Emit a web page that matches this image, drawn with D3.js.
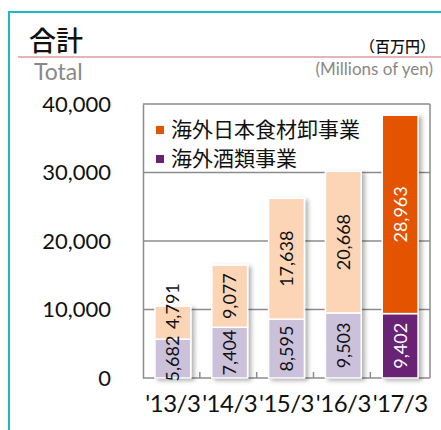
<!DOCTYPE html>
<html>
<head>
<meta charset="utf-8">
<script src="https://cdn.jsdelivr.net/npm/d3@7"></script>
<style>
  body { margin: 0; background: #fff; }
  svg { display: block; }
</style>
</head>
<body>
<div id="chart"></div>
<script>
// data
const categories = ["'13/3", "'14/3", "'15/3", "'16/3", "'17/3"];
const liquor = [5682, 7404, 8595, 9503, 9402];      // 海外酒類事業
const food = [4791, 9077, 17638, 20668, 28963];     // 海外日本食材卸事業
const yTicks = [0, 10000, 20000, 30000, 40000];
const seriesNames = ['海外日本食材卸事業', '海外酒類事業'];

const W = 441;
const H = 430;
const jp = '"Noto Sans CJK JP", sans-serif';
const num = 'Lato, "Open Sans", sans-serif';
const plot = { left: 143, right: 430, top: 104, bottom: 378 };

const svg = d3.select('#chart').append('svg')
  .attr('width', W)
  .attr('height', H);

// drop shadow for bars
const defs = svg.append('defs');
defs.append('filter')
  .attr('id', 'shadow')
  .attr('x', '-20%').attr('y', '-10%')
  .attr('width', '160%').attr('height', '130%')
  .append('feDropShadow')
  .attr('dx', 3).attr('dy', 2)
  .attr('stdDeviation', 2)
  .attr('flood-color', '#000')
  .attr('flood-opacity', 0.3);

// outer teal frame
svg.append('path')
  .attr('d', `M${W + 5},12 H9 V${H + 5}`)
  .attr('fill', 'none')
  .attr('stroke', '#1cb9c5')
  .attr('stroke-width', 2);

// title block
svg.append('text')
  .attr('x', 29).attr('y', 51)
  .attr('font-family', jp).attr('font-size', 27)
  .attr('font-weight', 500)
  .attr('fill', '#111')
  .text('合計');
svg.append('line')
  .attr('x1', 18).attr('x2', W)
  .attr('y1', 57).attr('y2', 57)
  .attr('stroke', '#e8b4b8').attr('stroke-width', 2);
svg.append('text')
  .attr('x', 34).attr('y', 80)
  .attr('font-family', num).attr('font-size', 23)
  .attr('fill', '#888')
  .text('Total');
svg.append('text')
  .attr('x', 435).attr('y', 52)
  .attr('text-anchor', 'end')
  .attr('font-family', jp).attr('font-size', 15)
  .attr('font-weight', 500)
  .attr('fill', '#111')
  .text('（百万円）');
svg.append('text')
  .attr('x', 433).attr('y', 75)
  .attr('text-anchor', 'end')
  .attr('font-family', num).attr('font-size', 17)
  .attr('fill', '#888')
  .text('(Millions of yen)');

const x = d3.scaleBand()
  .domain(categories)
  .range([plot.left, plot.right])
  .paddingInner(0.37)
  .paddingOuter(0.21);

const y = d3.scaleLinear()
  .domain([0, 40000])
  .range([plot.bottom, plot.top]);

// gridlines
svg.append('g')
  .selectAll('line')
  .data(yTicks.slice(1))
  .enter()
  .append('line')
  .attr('x1', plot.left).attr('x2', plot.right)
  .attr('y1', d => y(d)).attr('y2', d => y(d))
  .attr('stroke', '#8c8c8c').attr('stroke-width', 1.5);

// y axis
const yAxis = svg.append('g')
  .attr('transform', `translate(${plot.left},0)`)
  .call(d3.axisLeft(y).tickValues(yTicks).tickSize(0).tickPadding(32)
    .tickFormat(d3.format(',')));
yAxis.select('.domain').attr('stroke', '#8c8c8c').attr('stroke-width', 1.5);
yAxis.selectAll('text')
  .attr('font-family', num).attr('font-size', 22)
  .attr('fill', '#111');

// right frame
svg.append('line')
  .attr('x1', plot.right).attr('x2', plot.right)
  .attr('y1', plot.top).attr('y2', plot.bottom)
  .attr('stroke', '#8c8c8c').attr('stroke-width', 1.5);

// x axis with ticks between categories
const step = x.step();
const xTickPos = d3.range(1, categories.length).map(i => plot.left + (step * i));
svg.append('line')
  .attr('x1', plot.left).attr('x2', plot.right)
  .attr('y1', plot.bottom).attr('y2', plot.bottom)
  .attr('stroke', '#8c8c8c').attr('stroke-width', 1.5);
svg.append('g')
  .selectAll('line')
  .data(xTickPos)
  .enter()
  .append('line')
  .attr('x1', d => d).attr('x2', d => d)
  .attr('y1', plot.bottom).attr('y2', plot.bottom - 6)
  .attr('stroke', '#8c8c8c').attr('stroke-width', 1.5);

svg.append('g')
  .selectAll('text')
  .data(categories)
  .enter()
  .append('text')
  .attr('x', d => x(d) + (x.bandwidth() / 2))
  .attr('y', 412)
  .attr('text-anchor', 'middle')
  .attr('font-family', num).attr('font-size', 24)
  .attr('letter-spacing', -0.5)
  .attr('fill', '#111')
  .text(d => d);

// bar colours: last year is drawn in the strong shade
const pale = { food: '#fbd5b5', liquor: '#ccc1da' };
const dark = { food: '#e35306', liquor: '#6a2275' };
const isLast = i => i === categories.length - 1;

const bars = svg.append('g')
  .selectAll('g')
  .data(categories)
  .enter()
  .append('g')
  .attr('filter', 'url(#shadow)');

bars.append('rect')
  .attr('x', d => x(d))
  .attr('y', (d, i) => y(liquor[i]))
  .attr('width', x.bandwidth())
  .attr('height', (d, i) => y(0) - y(liquor[i]))
  .attr('fill', (d, i) => (isLast(i) ? dark.liquor : pale.liquor))
  .attr('stroke', '#fff').attr('stroke-width', 1.5);

bars.append('rect')
  .attr('x', d => x(d))
  .attr('y', (d, i) => y(liquor[i] + food[i]))
  .attr('width', x.bandwidth())
  .attr('height', (d, i) => y(liquor[i]) - y(liquor[i] + food[i]))
  .attr('fill', (d, i) => (isLast(i) ? dark.food : pale.food))
  .attr('stroke', '#fff').attr('stroke-width', 1.5);

// value labels, rotated; a label longer than its segment is pushed up
const fmt = d3.format(',');
const labels = svg.append('g');
categories.forEach((c, i) => {
  const cx = x(c) + (x.bandwidth() / 2);
  const segs = [
    { v: liquor[i], lo: y(0), hi: y(liquor[i]), lift: false },
    { v: food[i], lo: y(liquor[i]), hi: y(liquor[i] + food[i]), lift: true },
  ];
  segs.forEach((s) => {
    const t = labels.append('text')
      .attr('text-anchor', 'middle')
      .attr('font-family', num).attr('font-size', 18)
      .attr('fill', isLast(i) ? '#fff' : '#111')
      .text(fmt(s.v));
    const len = t.node().getComputedTextLength();
    let mid = (s.lo + s.hi) / 2;
    if (s.lift && len > (s.lo - s.hi)) mid = s.lo - 10 - (len / 2);
    t.attr('transform', `translate(${cx + 6.5},${mid}) rotate(-90)`);
  });
});

// legend
const legend = svg.append('g');
const legendColors = [dark.food, dark.liquor];
seriesNames.forEach((n, i) => {
  const ly = 130 + (i * 29);
  legend.append('rect')
    .attr('x', 156).attr('y', ly - 4)
    .attr('width', 8).attr('height', 8)
    .attr('fill', legendColors[i]);
  legend.append('text')
    .attr('x', 171).attr('y', ly + 7)
    .attr('font-family', jp).attr('font-size', 21)
    .attr('fill', '#111')
    .text(n);
});
</script>
</body>
</html>
